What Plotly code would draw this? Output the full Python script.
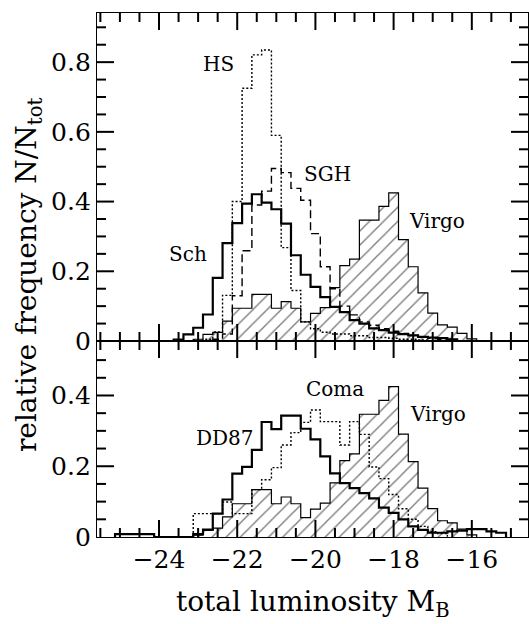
import plotly.graph_objects as go

# ---------------- data (bin centres in mag, relative frequency) ----------------
BIN_W = 0.25

# top panel
sch_mag = [-23.5, -23.25, -23.0, -22.75, -22.5, -22.25, -22.0, -21.75, -21.5, -21.25,
           -21.0, -20.75, -20.5, -20.25, -20.0, -19.75, -19.5, -19.25, -19.0, -18.75,
           -18.5, -18.25, -18.0, -17.75, -17.5, -17.25, -17.0, -16.75, -16.5]
sch_val = [0.004, 0.019, 0.038, 0.076, 0.181, 0.281, 0.338, 0.394, 0.421, 0.397,
           0.378, 0.337, 0.246, 0.190, 0.155, 0.126, 0.098, 0.083, 0.060, 0.050,
           0.036, 0.031, 0.024, 0.020, 0.016, 0.012, 0.010, 0.008, 0.005]

hs_mag = [-22.75, -22.5, -22.25, -22.0, -21.75, -21.5, -21.25, -21.0, -20.75, -20.5,
          -20.25, -20.0, -19.75, -19.5, -19.25, -19.0, -18.75, -18.5, -18.25, -18.0,
          -17.75, -17.5, -17.25]
hs_val = [0.005, 0.026, 0.131, 0.400, 0.725, 0.821, 0.835, 0.590, 0.268, 0.145,
          0.055, 0.035, 0.025, 0.020, 0.020, 0.015, 0.015, 0.010, 0.010, 0.008,
          0.005, 0.005, 0.003]

sgh_mag = [-22.5, -22.25, -22.0, -21.75, -21.5, -21.25, -21.0, -20.75, -20.5, -20.25,
           -20.0, -19.75, -19.5, -19.25, -19.0, -18.75, -18.5, -18.25, -18.0, -17.75,
           -17.5, -17.25, -17.0, -16.75]
sgh_val = [0.005, 0.020, 0.130, 0.259, 0.390, 0.430, 0.495, 0.483, 0.438, 0.404,
           0.308, 0.213, 0.150, 0.100, 0.075, 0.055, 0.045, 0.035, 0.028, 0.022,
           0.016, 0.012, 0.008, 0.005]

# Virgo (same sample shown in both panels)
virgo_mag = [-23.0, -22.75, -22.5, -22.25, -22.0, -21.75, -21.5, -21.25, -21.0, -20.75,
             -20.5, -20.25, -20.0, -19.75, -19.5, -19.25, -19.0, -18.75, -18.5, -18.25,
             -18.0, -17.75, -17.5, -17.25, -17.0, -16.75, -16.5, -16.25, -16.0]
virgo_val = [0.005, 0.019, 0.025, 0.057, 0.094, 0.094, 0.134, 0.134, 0.094, 0.113,
             0.094, 0.055, 0.079, 0.096, 0.153, 0.216, 0.235, 0.347, 0.347, 0.386,
             0.425, 0.291, 0.213, 0.138, 0.080, 0.046, 0.040, 0.022, 0.006]

# bottom panel
dd87_mag = [-25.0, -24.75, -24.5, -24.25, -24.0, -23.75, -23.5, -23.25, -23.0, -22.75,
            -22.5, -22.25, -22.0, -21.75, -21.5, -21.25, -21.0, -20.75, -20.5, -20.25,
            -20.0, -19.75, -19.5, -19.25, -19.0, -18.75, -18.5, -18.25, -18.0, -17.75,
            -17.5, -17.25, -17.0, -16.75, -16.5, -16.25, -16.0, -15.75, -15.5, -15.25]
dd87_val = [0.008, 0.008, 0.008, 0.008, 0.0, 0.0, 0.0, 0.0, 0.008, 0.021,
            0.066, 0.106, 0.179, 0.198, 0.246, 0.325, 0.305, 0.343, 0.343, 0.306,
            0.276, 0.228, 0.180, 0.152, 0.138, 0.124, 0.109, 0.083, 0.068, 0.050,
            0.030, 0.020, 0.012, 0.012, 0.016, 0.018, 0.022, 0.022, 0.016, 0.012]

coma_mag = [-23.0, -22.75, -22.5, -22.25, -22.0, -21.75, -21.5, -21.25, -21.0, -20.75,
            -20.5, -20.25, -20.0, -19.75, -19.5, -19.25, -19.0, -18.75, -18.5, -18.25,
            -18.0, -17.75, -17.5, -17.25, -17.0, -16.75]
coma_val = [0.066, 0.066, 0.066, 0.099, 0.066, 0.066, 0.134, 0.162, 0.196, 0.260,
            0.295, 0.324, 0.359, 0.326, 0.326, 0.260, 0.326, 0.290, 0.198, 0.165,
            0.120, 0.080, 0.050, 0.030, 0.015, 0.010]

# tick values
x_major = [-24, -22, -20, -18, -16]
x_minor = [-25.5, -25.0, -24.5, -23.5, -23.0, -22.5, -21.5, -21.0, -20.5,
           -19.5, -19.0, -18.5, -17.5, -17.0, -16.5, -15.5, -15.0]
top_y_major = [0.2, 0.4, 0.6, 0.8]
top_y_minor = [0.05, 0.1, 0.15, 0.25, 0.3, 0.35, 0.45, 0.5, 0.55, 0.65, 0.7, 0.75,
               0.85, 0.9]
bot_y_major = [0.2, 0.4]
bot_y_minor = [0.05, 0.1, 0.15, 0.25, 0.3, 0.35, 0.45, 0.5]

# ---------------- layout geometry ----------------
W, H = 529, 624
ML, MR, MT, MB = 97, 1, 13, 87
PLOT_W, PLOT_H = W - ML - MR, H - MT - MB
XR = [-25.586, -14.563]
YR_TOP = [0, 0.941]
YR_BOT = [0, 0.554]
SPLIT = 196 / 524

FONT = "DejaVu Serif"
fig = go.Figure()

def step_xy(centers, vals, w=BIN_W):
    xs = [centers[0] - w / 2] + [c - w / 2 for c in centers] + [centers[-1] + w / 2]
    ys = [0] + list(vals) + [0]
    return xs, ys

def add_hist(centers, vals, xa, ya, width, dash="solid", hatch=False):
    xs, ys = step_xy(centers, vals)
    kw = {}
    if hatch:
        kw = dict(fill="tozeroy", fillcolor="rgba(0,0,0,0)",
                  fillpattern=dict(shape="/", size=10, solidity=0.14,
                                   fgcolor="black", bgcolor="rgba(0,0,0,0)"))
    fig.add_trace(go.Scatter(x=xs, y=ys, mode="lines", line_shape="hv",
                             line=dict(color="black", width=width, dash=dash),
                             xaxis=xa, yaxis=ya, showlegend=False, hoverinfo="skip", **kw))

# top panel
add_hist(virgo_mag, virgo_val, "x2", "y2", 1.2, hatch=True)
add_hist(hs_mag, hs_val, "x2", "y2", 1.4, dash="2px,2px")
add_hist(sgh_mag, sgh_val, "x2", "y2", 1.4, dash="8px,4px")
add_hist(sch_mag, sch_val, "x2", "y2", 2.2)
# bottom panel
add_hist(virgo_mag, virgo_val, "x", "y", 1.2, hatch=True)
add_hist(coma_mag, coma_val, "x", "y", 1.4, dash="2px,2px")
add_hist(dd87_mag, dd87_val, "x", "y", 2.2)

# ---------------- tick marks drawn as line segments (inside, all four sides) ----------------
MAJ, MIN = 17, 9
px_per_mag = PLOT_W / (XR[1] - XR[0])

def tick_trace(xa, ya, yr, dom_frac, ymaj, ymin):
    px_per_unit = PLOT_H * dom_frac / (yr[1] - yr[0])
    for vals, length in ((x_major, MAJ), (x_minor, MIN)):
        tx, ty = [], []
        L = length / px_per_unit
        for v in vals:
            tx += [v, v, None, v, v, None]
            ty += [yr[0], yr[0] + L, None, yr[1], yr[1] - L, None]
        fig.add_trace(go.Scatter(x=tx, y=ty, mode="lines", connectgaps=False,
                                 line=dict(color="#000000", width=2),
                                 xaxis=xa, yaxis=ya, showlegend=False, hoverinfo="skip"))
    for vals, length in ((ymaj, MAJ), (ymin, MIN)):
        tx, ty = [], []
        L = length / px_per_mag
        for v in vals:
            tx += [XR[0], XR[0] + L, None, XR[1], XR[1] - L, None]
            ty += [v, v, None, v, v, None]
        fig.add_trace(go.Scatter(x=tx, y=ty, mode="lines", connectgaps=False,
                                 line=dict(color="#000000", width=2),
                                 xaxis=xa, yaxis=ya, showlegend=False, hoverinfo="skip"))

tick_trace("x", "y", YR_BOT, SPLIT, bot_y_major, bot_y_minor)
tick_trace("x2", "y2", YR_TOP, 1 - SPLIT, top_y_major, top_y_minor)

def axis(**kw):
    d = dict(showline=True, linecolor="black", linewidth=1.3, mirror=True,
             ticks="", showgrid=False, zeroline=False, tickmode="array",
             tickfont=dict(family=FONT, size=25, color="black"))
    d.update(kw)
    return d

fig.update_layout(
    width=W, height=H,
    margin=dict(l=ML, r=MR, t=MT, b=MB),
    plot_bgcolor="white", paper_bgcolor="white",
    xaxis=axis(range=XR, anchor="y", tickvals=x_major),
    xaxis2=axis(range=XR, anchor="y2", tickvals=x_major, showticklabels=False),
    yaxis=axis(range=YR_BOT, domain=[0, SPLIT], anchor="x", tickvals=[0] + bot_y_major,
               ticktext=[f"{v:g}" for v in [0] + bot_y_major]),
    yaxis2=axis(range=YR_TOP, domain=[SPLIT, 1], anchor="x2", tickvals=[0] + top_y_major,
                ticktext=[f"{v:g}" for v in [0] + top_y_major]),
)

# ---------------- labels ----------------
lab_font = dict(family=FONT, size=20, color="black")
labels = [
    ("HS", -22.47, 0.795, "x2", "y2"),
    ("SGH", -19.70, 0.479, "x2", "y2"),
    ("Sch", -23.26, 0.249, "x2", "y2"),
    ("Virgo", -16.89, 0.345, "x2", "y2"),
    ("Coma", -19.50, 0.418, "x", "y"),
    ("Virgo", -16.86, 0.347, "x", "y"),
    ("DD87", -22.31, 0.279, "x", "y"),
]
for t, xv, yv, xr, yr in labels:
    fig.add_annotation(text=t, x=xv, y=yv, xref=xr, yref=yr, showarrow=False,
                       xanchor="center", yanchor="middle", font=lab_font)

fig.add_annotation(text="relative frequency N/N<sub>tot</sub>", xref="paper", yref="paper",
                   x=-0.160, y=0.5, textangle=-90, showarrow=False,
                   xanchor="center", yanchor="middle",
                   font=dict(family=FONT, size=28, color="black"))
fig.add_annotation(text="total luminosity M<sub>B</sub>", xref="paper", yref="paper",
                   x=0.5, y=-0.127, showarrow=False, xanchor="center", yanchor="middle",
                   font=dict(family=FONT, size=28, color="black"))

fig.write_html("out.html")
